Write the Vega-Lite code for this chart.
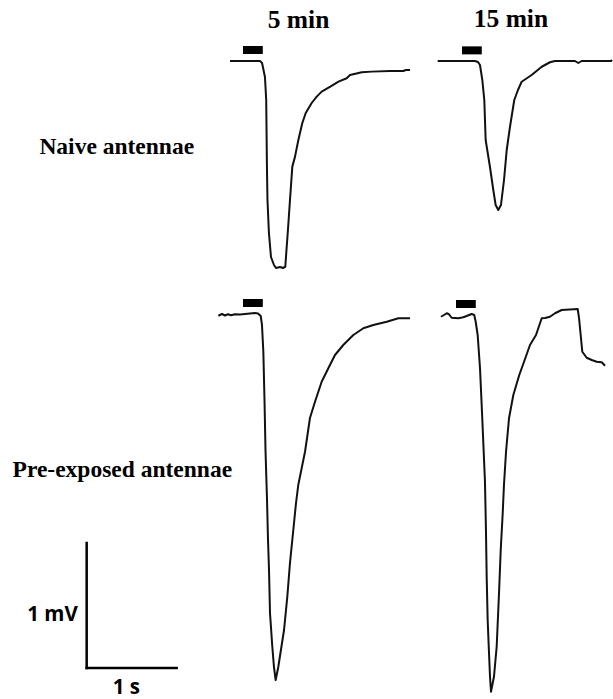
{
  "$schema": "https://vega.github.io/schema/vega-lite/v6.json",
  "padding": 0,
  "background": "white",
  "config": {"view": {"stroke": null}},
  "datasets": {
    "naive5": [
      {"t": -0.144, "v": 0}, {"t": 0.0, "v": 0}, {"t": 0.189, "v": 0}, {"t": 0.212, "v": -0.016},
      {"t": 0.244, "v": -0.128}, {"t": 0.258, "v": -0.312}, {"t": 0.266, "v": -0.848},
      {"t": 0.272, "v": -1.112}, {"t": 0.288, "v": -1.376}, {"t": 0.311, "v": -1.568},
      {"t": 0.344, "v": -1.632}, {"t": 0.367, "v": -1.656}, {"t": 0.411, "v": -1.648},
      {"t": 0.444, "v": -1.656}, {"t": 0.47, "v": -1.646}, {"t": 0.483, "v": -1.512},
      {"t": 0.497, "v": -1.376}, {"t": 0.522, "v": -1.112}, {"t": 0.548, "v": -0.845},
      {"t": 0.578, "v": -0.765}, {"t": 0.615, "v": -0.632}, {"t": 0.659, "v": -0.496},
      {"t": 0.697, "v": -0.416}, {"t": 0.763, "v": -0.336}, {"t": 0.819, "v": -0.285},
      {"t": 0.874, "v": -0.245}, {"t": 0.97, "v": -0.205}, {"t": 1.061, "v": -0.165},
      {"t": 1.152, "v": -0.138}, {"t": 1.189, "v": -0.112}, {"t": 1.319, "v": -0.09},
      {"t": 1.43, "v": -0.085}, {"t": 1.633, "v": -0.08}, {"t": 1.78, "v": -0.08},
      {"t": 1.81, "v": -0.072}, {"t": 1.856, "v": -0.072}
    ],
    "naive15": [
      {"t": -0.27, "v": 0}, {"t": -0.078, "v": 0}, {"t": 0.144, "v": 0}, {"t": 0.178, "v": -0.008},
      {"t": 0.2, "v": -0.032}, {"t": 0.226, "v": -0.152}, {"t": 0.248, "v": -0.312},
      {"t": 0.263, "v": -0.632}, {"t": 0.311, "v": -0.848}, {"t": 0.348, "v": -1.032},
      {"t": 0.374, "v": -1.152}, {"t": 0.403, "v": -1.192}, {"t": 0.433, "v": -1.152},
      {"t": 0.467, "v": -0.952}, {"t": 0.497, "v": -0.712}, {"t": 0.533, "v": -0.528},
      {"t": 0.581, "v": -0.312}, {"t": 0.622, "v": -0.232}, {"t": 0.663, "v": -0.166},
      {"t": 0.774, "v": -0.112}, {"t": 0.886, "v": -0.046}, {"t": 0.978, "v": -0.01},
      {"t": 1.033, "v": 0}, {"t": 1.256, "v": 0}, {"t": 1.292, "v": -0.016},
      {"t": 1.33, "v": 0}, {"t": 1.656, "v": 0}, {"t": 1.667, "v": 0.008}
    ],
    "pre5": [
      {"t": -0.274, "v": -0.006}, {"t": -0.233, "v": 0.008}, {"t": -0.2, "v": -0.004},
      {"t": -0.167, "v": 0.006}, {"t": -0.133, "v": -0.002}, {"t": -0.089, "v": 0.006},
      {"t": -0.033, "v": 0.004}, {"t": 0.022, "v": 0.008}, {"t": 0.078, "v": 0.012},
      {"t": 0.133, "v": 0.016}, {"t": 0.167, "v": 0.012}, {"t": 0.197, "v": -0.008},
      {"t": 0.211, "v": -0.08}, {"t": 0.226, "v": -0.294}, {"t": 0.239, "v": -0.68},
      {"t": 0.25, "v": -1.08}, {"t": 0.267, "v": -1.48}, {"t": 0.278, "v": -1.8},
      {"t": 0.289, "v": -2.04}, {"t": 0.3, "v": -2.384}, {"t": 0.326, "v": -2.656},
      {"t": 0.344, "v": -2.816}, {"t": 0.363, "v": -2.92}, {"t": 0.392, "v": -2.816},
      {"t": 0.456, "v": -2.52}, {"t": 0.492, "v": -2.256}, {"t": 0.522, "v": -1.984},
      {"t": 0.559, "v": -1.72}, {"t": 0.589, "v": -1.504}, {"t": 0.614, "v": -1.36},
      {"t": 0.689, "v": -1.094}, {"t": 0.744, "v": -0.824}, {"t": 0.8, "v": -0.694},
      {"t": 0.874, "v": -0.534}, {"t": 0.948, "v": -0.426}, {"t": 1.022, "v": -0.32},
      {"t": 1.114, "v": -0.24}, {"t": 1.226, "v": -0.16}, {"t": 1.337, "v": -0.106},
      {"t": 1.448, "v": -0.08}, {"t": 1.597, "v": -0.054}, {"t": 1.726, "v": -0.026},
      {"t": 1.856, "v": -0.026}
    ],
    "pre15": [
      {"t": -0.167, "v": -0.014}, {"t": -0.133, "v": 0}, {"t": -0.103, "v": 0.014},
      {"t": -0.078, "v": 0.006}, {"t": -0.048, "v": -0.022}, {"t": 0.026, "v": -0.026},
      {"t": 0.081, "v": -0.018}, {"t": 0.119, "v": -0.008}, {"t": 0.174, "v": 0.008},
      {"t": 0.203, "v": 0}, {"t": 0.219, "v": -0.054}, {"t": 0.241, "v": -0.16},
      {"t": 0.267, "v": -0.426}, {"t": 0.292, "v": -0.826}, {"t": 0.322, "v": -1.334},
      {"t": 0.333, "v": -1.72}, {"t": 0.341, "v": -2.094}, {"t": 0.352, "v": -2.44},
      {"t": 0.367, "v": -2.706}, {"t": 0.378, "v": -2.894}, {"t": 0.389, "v": -3.014},
      {"t": 0.422, "v": -2.894}, {"t": 0.452, "v": -2.654}, {"t": 0.478, "v": -2.226},
      {"t": 0.497, "v": -1.88}, {"t": 0.519, "v": -1.586}, {"t": 0.533, "v": -1.36},
      {"t": 0.556, "v": -1.094}, {"t": 0.589, "v": -0.826}, {"t": 0.637, "v": -0.64},
      {"t": 0.703, "v": -0.48}, {"t": 0.756, "v": -0.374}, {"t": 0.822, "v": -0.24},
      {"t": 0.889, "v": -0.16}, {"t": 0.952, "v": -0.026}, {"t": 0.989, "v": -0.024},
      {"t": 1.044, "v": -0.014}, {"t": 1.1, "v": 0.014}, {"t": 1.174, "v": 0.04},
      {"t": 1.352, "v": 0.048}, {"t": 1.367, "v": -0.026}, {"t": 1.403, "v": -0.294},
      {"t": 1.452, "v": -0.342}, {"t": 1.508, "v": -0.36}, {"t": 1.563, "v": -0.374},
      {"t": 1.619, "v": -0.378}, {"t": 1.656, "v": -0.406}
    ],
    "stimulus": [{"onset": 0, "offset": 0.22}]
  },
  "bounds": "flush",
  "align": "each",
  "spacing": 0,
  "columns": 3,
  "concat": [
    {
      "width": 215, "height": 285,
      "data": {"values": [{"label": "Naive antennae"}]},
      "mark": {"type": "text", "font": "Liberation Serif", "fontWeight": "bold", "fontSize": 23.5, "align": "center", "baseline": "alphabetic", "color": "black"},
      "encoding": {
        "text": {"field": "label"},
        "x": {"datum": 0.334, "type": "quantitative", "scale": {"domain": [-0.963, 1.426], "nice": false, "zero": false}, "axis": null},
        "y": {"datum": -0.744, "type": "quantitative", "scale": {"domain": [-1.792, 0.488], "nice": false, "zero": false}, "axis": null}
      }
    },
    {
      "width": 210, "height": 285,
      "layer": [
        {
          "data": {"name": "naive5"},
          "mark": {"type": "line", "color": "#111", "strokeWidth": 2, "strokeJoin": "round"},
          "encoding": {
            "x": {"field": "t", "type": "quantitative", "scale": {"domain": [-0.311, 2.022], "nice": false, "zero": false}, "axis": null},
            "y": {"field": "v", "type": "quantitative", "scale": {"domain": [-1.792, 0.488], "nice": false, "zero": false}, "axis": null}
          }
        },
        {
          "data": {"name": "stimulus"},
          "mark": {"type": "rule", "color": "black", "strokeWidth": 8, "strokeCap": "butt"},
          "encoding": {
            "x": {"field": "onset", "type": "quantitative"},
            "x2": {"field": "offset"},
            "y": {"datum": 0.088, "type": "quantitative"}
          }
        },
        {
          "data": {"values": [{"label": "5 min"}]},
          "mark": {"type": "text", "font": "Liberation Serif", "fontWeight": "bold", "fontSize": 25.5, "align": "center", "baseline": "alphabetic", "color": "black"},
          "encoding": {
            "text": {"field": "label"},
            "x": {"datum": 0.617, "type": "quantitative"},
            "y": {"datum": 0.264, "type": "quantitative"}
          }
        }
      ]
    },
    {
      "width": 188, "height": 285,
      "layer": [
        {
          "data": {"name": "naive15"},
          "mark": {"type": "line", "color": "#111", "strokeWidth": 2, "strokeJoin": "round"},
          "encoding": {
            "x": {"field": "t", "type": "quantitative", "scale": {"domain": [-0.411, 1.678], "nice": false, "zero": false}, "axis": null},
            "y": {"field": "v", "type": "quantitative", "scale": {"domain": [-1.792, 0.488], "nice": false, "zero": false}, "axis": null}
          }
        },
        {
          "data": {"name": "stimulus"},
          "mark": {"type": "rule", "color": "black", "strokeWidth": 8, "strokeCap": "butt"},
          "encoding": {
            "x": {"field": "onset", "type": "quantitative"},
            "x2": {"field": "offset"},
            "y": {"datum": 0.085, "type": "quantitative"}
          }
        },
        {
          "data": {"values": [{"label": "15 min"}]},
          "mark": {"type": "text", "font": "Liberation Serif", "fontWeight": "bold", "fontSize": 25.5, "align": "center", "baseline": "alphabetic", "color": "black"},
          "encoding": {
            "text": {"field": "label"},
            "x": {"datum": 0.544, "type": "quantitative"},
            "y": {"datum": 0.272, "type": "quantitative"}
          }
        }
      ]
    },
    {
      "width": 215, "height": 414,
      "layer": [
        {
          "data": {"values": [{"label": "Pre-exposed antennae"}]},
          "mark": {"type": "text", "font": "Liberation Serif", "fontWeight": "bold", "fontSize": 23.5, "align": "center", "baseline": "alphabetic", "color": "black"},
          "encoding": {
            "text": {"field": "label"},
            "x": {"datum": 0.396, "type": "quantitative", "scale": {"domain": [-0.963, 1.426], "nice": false, "zero": false}, "axis": null},
            "y": {"datum": 1.528, "type": "quantitative", "scale": {"domain": [-0.248, 3.064], "nice": false, "zero": false}, "axis": null}
          }
        },
        {
          "data": {"values": [{"bar": "time", "x0": 0, "x1": 1, "y0": 0, "y1": 0}, {"bar": "voltage", "x0": 0, "x1": 0, "y0": 0, "y1": 1}]},
          "mark": {"type": "rule", "color": "black", "strokeWidth": 2.5, "strokeCap": "square"},
          "encoding": {
            "x": {"field": "x0", "type": "quantitative"},
            "x2": {"field": "x1"},
            "y": {"field": "y0", "type": "quantitative"},
            "y2": {"field": "y1"}
          }
        },
        {
          "data": {"values": [{"label": "1 mV", "x": -0.38, "y": 0.426}, {"label": "1 s", "x": 0.44, "y": -0.16}]},
          "mark": {"type": "text", "font": "Open Sans", "fontWeight": "bold", "fontSize": 20.5, "align": "center", "baseline": "middle", "color": "black"},
          "encoding": {
            "text": {"field": "label"},
            "x": {"field": "x", "type": "quantitative"},
            "y": {"field": "y", "type": "quantitative"}
          }
        }
      ]
    },
    {
      "width": 210, "height": 414,
      "layer": [
        {
          "data": {"name": "pre5"},
          "mark": {"type": "line", "color": "#111", "strokeWidth": 2, "strokeJoin": "round"},
          "encoding": {
            "x": {"field": "t", "type": "quantitative", "scale": {"domain": [-0.311, 2.022], "nice": false, "zero": false}, "axis": null},
            "y": {"field": "v", "type": "quantitative", "scale": {"domain": [-3.072, 0.24], "nice": false, "zero": false}, "axis": null}
          }
        },
        {
          "data": {"name": "stimulus"},
          "mark": {"type": "rule", "color": "black", "strokeWidth": 8, "strokeCap": "butt"},
          "encoding": {
            "x": {"field": "onset", "type": "quantitative"},
            "x2": {"field": "offset"},
            "y": {"datum": 0.096, "type": "quantitative"}
          }
        }
      ]
    },
    {
      "width": 188, "height": 414,
      "layer": [
        {
          "data": {"name": "pre15"},
          "mark": {"type": "line", "color": "#111", "strokeWidth": 2, "strokeJoin": "round"},
          "encoding": {
            "x": {"field": "t", "type": "quantitative", "scale": {"domain": [-0.344, 1.744], "nice": false, "zero": false}, "axis": null},
            "y": {"field": "v", "type": "quantitative", "scale": {"domain": [-3.072, 0.24], "nice": false, "zero": false}, "axis": null}
          }
        },
        {
          "data": {"name": "stimulus"},
          "mark": {"type": "rule", "color": "black", "strokeWidth": 8, "strokeCap": "butt"},
          "encoding": {
            "x": {"field": "onset", "type": "quantitative"},
            "x2": {"field": "offset"},
            "y": {"datum": 0.088, "type": "quantitative"}
          }
        }
      ]
    }
  ]
}
